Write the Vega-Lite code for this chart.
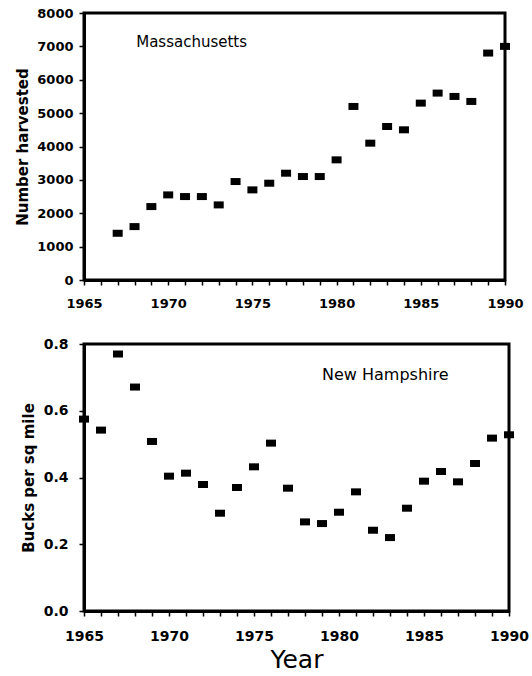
{
  "$schema": "https://vega.github.io/schema/vega-lite/v6.json",
  "background": "white",
  "padding": {"left": 14, "top": 5, "right": 10, "bottom": 2},
  "bounds": "flush",
  "spacing": 64,
  "datasets": {
    "ma": [
      {"year": 1967, "harvest": 1400},
      {"year": 1968, "harvest": 1600},
      {"year": 1969, "harvest": 2200},
      {"year": 1970, "harvest": 2550},
      {"year": 1971, "harvest": 2500},
      {"year": 1972, "harvest": 2500},
      {"year": 1973, "harvest": 2250},
      {"year": 1974, "harvest": 2950},
      {"year": 1975, "harvest": 2700},
      {"year": 1976, "harvest": 2900},
      {"year": 1977, "harvest": 3200},
      {"year": 1978, "harvest": 3100},
      {"year": 1979, "harvest": 3100},
      {"year": 1980, "harvest": 3600},
      {"year": 1981, "harvest": 5200},
      {"year": 1982, "harvest": 4100},
      {"year": 1983, "harvest": 4600},
      {"year": 1984, "harvest": 4500},
      {"year": 1985, "harvest": 5300},
      {"year": 1986, "harvest": 5600},
      {"year": 1987, "harvest": 5500},
      {"year": 1988, "harvest": 5350},
      {"year": 1989, "harvest": 6800},
      {"year": 1990, "harvest": 7000}
    ],
    "nh": [
      {"year": 1965, "bucks": 0.575},
      {"year": 1966, "bucks": 0.542},
      {"year": 1967, "bucks": 0.77},
      {"year": 1968, "bucks": 0.671},
      {"year": 1969, "bucks": 0.508},
      {"year": 1970, "bucks": 0.404},
      {"year": 1971, "bucks": 0.413},
      {"year": 1972, "bucks": 0.379},
      {"year": 1973, "bucks": 0.293},
      {"year": 1974, "bucks": 0.37},
      {"year": 1975, "bucks": 0.432},
      {"year": 1976, "bucks": 0.503},
      {"year": 1977, "bucks": 0.368},
      {"year": 1978, "bucks": 0.267},
      {"year": 1979, "bucks": 0.262},
      {"year": 1980, "bucks": 0.296},
      {"year": 1981, "bucks": 0.357},
      {"year": 1982, "bucks": 0.242},
      {"year": 1983, "bucks": 0.22},
      {"year": 1984, "bucks": 0.308},
      {"year": 1985, "bucks": 0.389},
      {"year": 1986, "bucks": 0.418},
      {"year": 1987, "bucks": 0.387},
      {"year": 1988, "bucks": 0.442},
      {"year": 1989, "bucks": 0.518},
      {"year": 1990, "bucks": 0.528}
    ]
  },
  "config": {
    "font": "DejaVu Sans",
    "view": {"stroke": "black", "strokeWidth": 3},
    "axis": {
      "grid": false,
      "domainColor": "black",
      "domainWidth": 3,
      "tickColor": "black",
      "tickWidth": 1.5,
      "tickSize": 5,
      "tickCount": 40,
      "labelColor": "black",
      "labelFont": "DejaVu Sans",
      "labelFontWeight": "bold",
      "titleColor": "black",
      "titleFont": "DejaVu Sans",
      "labelFlush": false,
      "labelOverlap": false
    }
  },
  "vconcat": [
    {
      "width": 421,
      "height": 267,
      "layer": [
        {
          "data": {"name": "ma"},
          "mark": {"type": "point", "shape": "M-1,-0.7H1V0.7H-1Z", "filled": true, "color": "black", "opacity": 1, "size": 100},
          "encoding": {
            "x": {
              "field": "year", "type": "quantitative",
              "scale": {"domain": [1965, 1990], "nice": false, "zero": false},
              "axis": {
                "title": null,
                "values": [1965, 1966, 1967, 1968, 1969, 1970, 1971, 1972, 1973, 1974, 1975, 1976, 1977, 1978, 1979, 1980, 1981, 1982, 1983, 1984, 1985, 1986, 1987, 1988, 1989, 1990],
                "tickCount": 40,
                "labelExpr": "datum.value % 5 == 0 ? datum.value : ''",
                "labelFontSize": 13,
                "labelPadding": 12
              }
            },
            "y": {
              "field": "harvest", "type": "quantitative",
              "scale": {"domain": [0, 8000], "nice": false},
              "axis": {
                "title": "Number harvested",
                "values": [0, 1000, 2000, 3000, 4000, 5000, 6000, 7000, 8000],
                "tickCount": 40,
                "format": "d",
                "labelFontSize": 13,
                "labelPadding": 6,
                "titleFontSize": 15,
                "titleFontWeight": "bold",
                "titlePadding": 6
              }
            }
          }
        },
        {
          "data": {"values": [{"state": "Massachusetts", "year": 1968.1, "harvest": 7130}]},
          "mark": {"type": "text", "align": "left", "baseline": "middle", "fontSize": 15, "font": "DejaVu Sans", "color": "black"},
          "encoding": {
            "x": {"field": "year", "type": "quantitative"},
            "y": {"field": "harvest", "type": "quantitative"},
            "text": {"field": "state"}
          }
        }
      ]
    },
    {
      "width": 425,
      "height": 267,
      "layer": [
        {
          "data": {"name": "nh"},
          "mark": {"type": "point", "shape": "M-1,-0.7H1V0.7H-1Z", "filled": true, "color": "black", "opacity": 1, "size": 100},
          "encoding": {
            "x": {
              "field": "year", "type": "quantitative",
              "scale": {"domain": [1965, 1990], "nice": false, "zero": false},
              "axis": {
                "title": "Year",
                "values": [1965, 1966, 1967, 1968, 1969, 1970, 1971, 1972, 1973, 1974, 1975, 1976, 1977, 1978, 1979, 1980, 1981, 1982, 1983, 1984, 1985, 1986, 1987, 1988, 1989, 1990],
                "tickCount": 40,
                "labelExpr": "datum.value % 5 == 0 ? datum.value : ''",
                "labelFontSize": 14,
                "labelPadding": 13,
                "titleFontSize": 25,
                "titleFontWeight": "normal",
                "titlePadding": 4
              }
            },
            "y": {
              "field": "bucks", "type": "quantitative",
              "scale": {"domain": [0, 0.8], "nice": false},
              "axis": {
                "title": "Bucks per sq mile",
                "values": [0, 0.2, 0.4, 0.6, 0.8],
                "tickCount": 40,
                "format": ".1f",
                "labelFontSize": 14,
                "labelPadding": 11,
                "titleFontSize": 15,
                "titleFontWeight": "bold",
                "titlePadding": 7
              }
            }
          }
        },
        {
          "data": {"values": [{"state": "New Hampshire", "year": 1979.0, "bucks": 0.707}]},
          "mark": {"type": "text", "align": "left", "baseline": "middle", "fontSize": 16, "font": "DejaVu Sans", "color": "black"},
          "encoding": {
            "x": {"field": "year", "type": "quantitative"},
            "y": {"field": "bucks", "type": "quantitative"},
            "text": {"field": "state"}
          }
        }
      ]
    }
  ]
}
